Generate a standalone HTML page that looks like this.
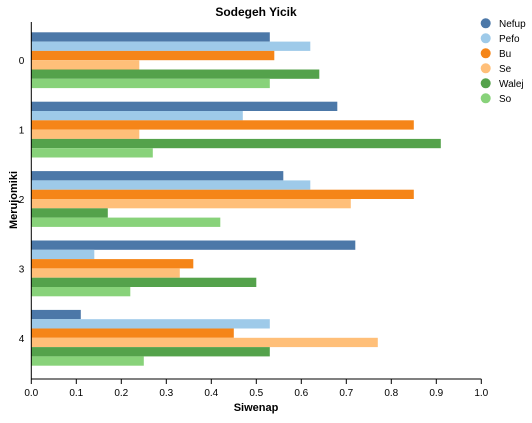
<!DOCTYPE html>
<html><head><meta charset="utf-8"><style>
body{margin:0;background:#fff;font-family:"Liberation Sans",sans-serif;}
svg text{font-family:"Liberation Sans",sans-serif;}
</style></head><body>
<svg width="532" height="418">
<text x="256" y="16" text-anchor="middle" font-size="12" font-weight="bold">Sodegeh Yicik</text>
<g id="bars"></g>
<g id="axes"></g>
<g id="legend"></g>
<text x="256" y="411" text-anchor="middle" font-size="11" font-weight="bold">Siwenap</text>
<text transform="translate(17,200) rotate(-90)" text-anchor="middle" font-size="11" font-weight="bold">Merujomiki</text>
</svg>
<script>
const categories = ["0","1","2","3","4"];
const seriesNames = ["Nefup","Pefo","Bu","Se","Walej","So"];
const colors = ["#4c78a8","#9ecae9","#f58518","#ffbf79","#54a24b","#88d27a"];
const nefup = [0.53,0.68,0.56,0.72,0.11];
const pefo  = [0.62,0.47,0.62,0.14,0.53];
const bu    = [0.54,0.85,0.85,0.36,0.45];
const se    = [0.24,0.24,0.71,0.33,0.77];
const walej = [0.64,0.91,0.17,0.50,0.53];
const so    = [0.53,0.27,0.42,0.22,0.25];
const xTicks = [0,0.1,0.2,0.3,0.4,0.5,0.6,0.7,0.8,0.9,1.0];
const series = [nefup,pefo,bu,se,walej,so];
const NS="http://www.w3.org/2000/svg";
const x0=31.3, x1=481.3, plotTop=22, plotBottom=379;
const xs=v=>x0+v*(x1-x0);
const groupStart=i=>32.3+i*69.4;
const bh=9.3;
function mk(t,a,p){const e=document.createElementNS(NS,t);for(const k in a)e.setAttribute(k,a[k]);p.appendChild(e);return e;}
const gb=document.getElementById('bars');
categories.forEach((c,i)=>{
  series.forEach((s,j)=>{
    const r=mk('rect',{x:x0,y:groupStart(i)+j*bh,width:xs(s[i])-x0,height:bh,fill:colors[j]},gb);
    
    
  });
});
const ga=document.getElementById('axes');
mk('line',{x1:x0,y1:plotTop,x2:x0,y2:plotBottom,stroke:'#000'},ga);
mk('line',{x1:x0,y1:plotBottom,x2:x1,y2:plotBottom,stroke:'#000'},ga);
xTicks.forEach(t=>{
  mk('line',{x1:xs(t),y1:plotBottom,x2:xs(t),y2:plotBottom+5,stroke:'#000'},ga);
  const tx=mk('text',{x:xs(t),y:plotBottom+17,'text-anchor':'middle','font-size':'10'},ga);
  tx.textContent=t.toFixed(1);
  
  
});
categories.forEach((c,i)=>{
  const yc=groupStart(i)+3*bh;
  const tx=mk('text',{x:x0-7,y:yc+4,'text-anchor':'end','font-size':'10'},ga);
  tx.textContent=c;
  
  
});
const gl=document.getElementById('legend');
seriesNames.forEach((n,j)=>{
  const y=23.3+j*15;
  const g=mk('g',{},gl);
  
  
  mk('circle',{cx:485.7,cy:y,r:5,fill:colors[j]},g);
  const t=mk('text',{x:499,y:y+3.5,'font-size':'10'},g);
  t.textContent=n;
});
</script>
</body></html>
